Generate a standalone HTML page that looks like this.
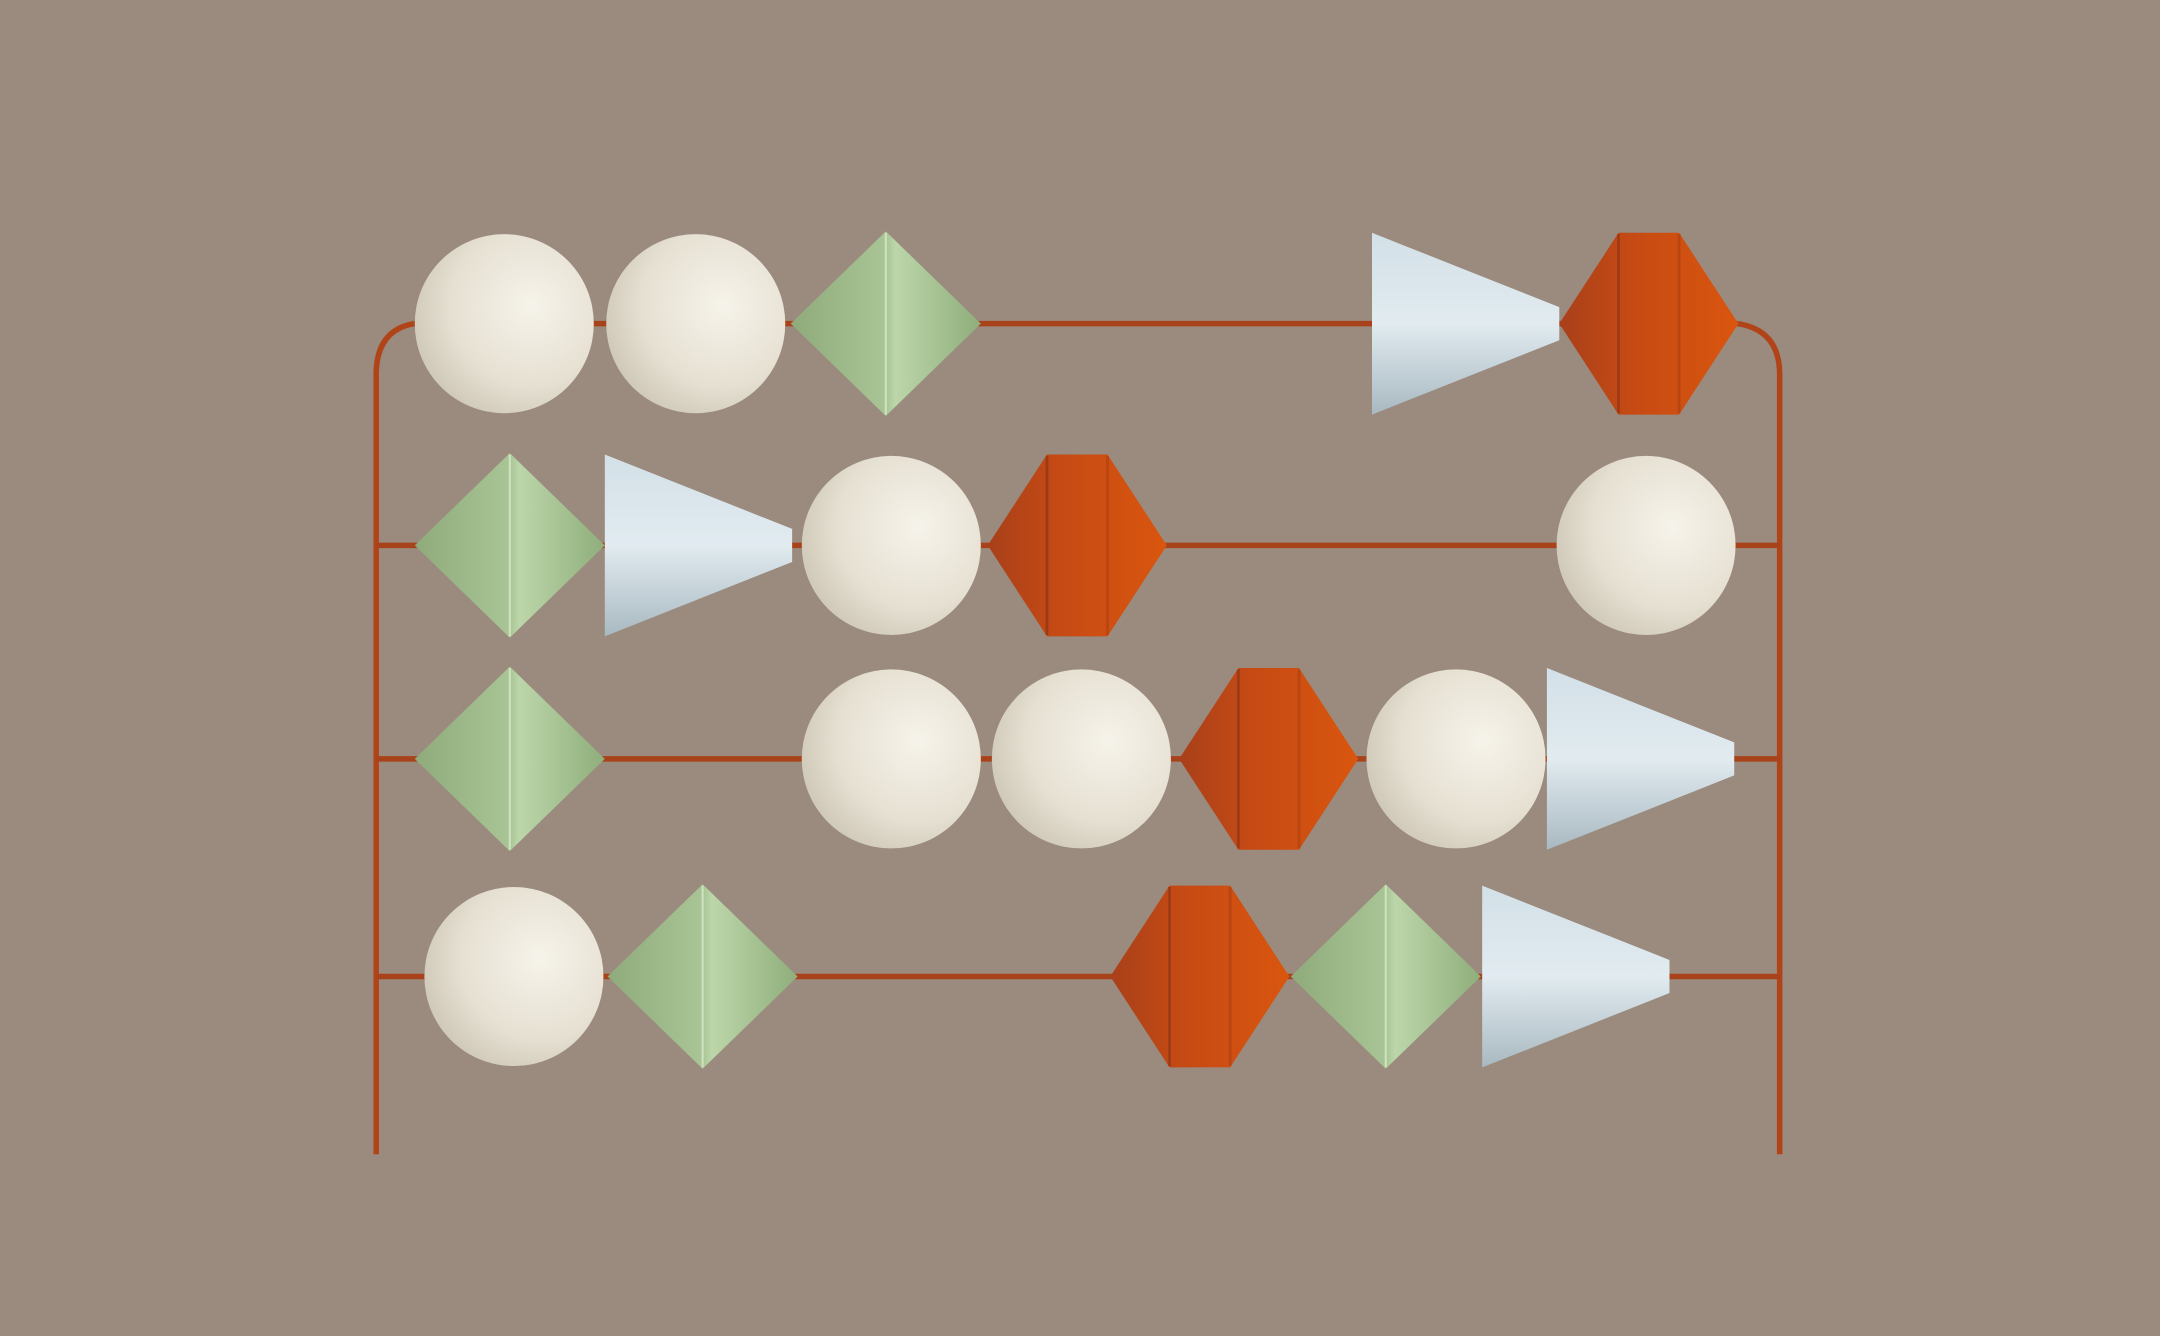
<!DOCTYPE html>
<html><head><meta charset="utf-8"><style>
html,body{margin:0;padding:0;background:#9a8b7e;}
svg{display:block}
</style></head><body>
<svg width="2160" height="1336" viewBox="0 0 1568 970" xmlns="http://www.w3.org/2000/svg">
<defs>
<radialGradient id="gs" cx="0.65" cy="0.4" r="0.75"><stop offset="0" stop-color="#f6f3ea"/><stop offset="0.6" stop-color="#e6e0d2"/><stop offset="1" stop-color="#c9c2b2"/></radialGradient>
<linearGradient id="gg" x1="0" x2="1"><stop offset="0" stop-color="#8fab7c"/><stop offset="0.5" stop-color="#a9c595"/><stop offset="0.55" stop-color="#bcd6aa"/><stop offset="1" stop-color="#8fae7b"/></linearGradient>
<linearGradient id="gc" x1="0" y1="0" x2="0" y2="1"><stop offset="0" stop-color="#d3e0e7"/><stop offset="0.5" stop-color="#e1ebf0"/><stop offset="1" stop-color="#a9b9c1"/></linearGradient>
<linearGradient id="go" x1="0" x2="1"><stop offset="0" stop-color="#a8401a"/><stop offset="0.4" stop-color="#c64a14"/><stop offset="1" stop-color="#d9560e"/></linearGradient>
</defs>
<rect x="0" y="0" width="1568" height="970" fill="#9a8b7e"/>
<g fill="none" stroke="#b04418" stroke-width="4">
<path d="M273 838 V272 Q273 240 300 235"/>
<path d="M1292 838 V272 Q1292 240 1262 235"/>
</g>
<g id="rods"></g>
<g id="beads"></g>
<script>
const rodY=[235,396,551,709];
const beadRows=[
 [['s',366],['s',505],['d',643],['c',1064],['o',1197]],
 [['d',370],['c',507],['s',647],['o',782],['s',1195]],
 [['d',370],['s',647],['s',785],['o',921],['s',1057],['c',1191]],
 [['s',373],['d',510],['o',871],['d',1006],['c',1144]]
];
const NS='http://www.w3.org/2000/svg';
const rods=document.getElementById('rods'),beads=document.getElementById('beads');
function mk(t,a,p){const e=document.createElementNS(NS,t);for(const k in a)e.setAttribute(k,a[k]);p.appendChild(e);return e;}
rodY.forEach((y,i)=>{
 const l=mk('line',{x1:i==0?300:273,x2:i==0?1262:1292,y1:y,y2:y,stroke:'#a8421a','stroke-width':4},rods);
 
 
});
beadRows.forEach((row,i)=>{const cy=rodY[i];row.forEach(([t,cx],j)=>{
 let e;
 if(t=='s'){e=mk('circle',{cx:cx,cy:cy,r:65,fill:'url(#gs)'},beads);}
 else if(t=='d'){e=mk('g',{},beads);mk('polygon',{points:`${cx-69},${cy} ${cx},${cy-67} ${cx+69},${cy} ${cx},${cy+67}`,fill:'url(#gg)'},e);mk('line',{x1:cx,y1:cy-66,x2:cx,y2:cy+66,stroke:'#cfe2c0','stroke-width':1.5},e);}
 else if(t=='c'){e=mk('polygon',{points:`${cx-68},${cy-66} ${cx+68},${cy-12} ${cx+68},${cy+12} ${cx-68},${cy+66}`,fill:'url(#gc)'},beads);}
 else {e=mk('g',{},beads);mk('polygon',{points:`${cx-65},${cy} ${cx-22},${cy-66} ${cx+22},${cy-66} ${cx+65},${cy} ${cx+22},${cy+66} ${cx-22},${cy+66}`,fill:'url(#go)'},e);
  mk('line',{x1:cx-22,y1:cy-65,x2:cx-22,y2:cy+65,stroke:'#9c3a15','stroke-width':2},e);mk('line',{x1:cx+22,y1:cy-65,x2:cx+22,y2:cy+65,stroke:'#b84512','stroke-width':2},e);}
 
 
});});
</script>
</svg>
</body></html>
